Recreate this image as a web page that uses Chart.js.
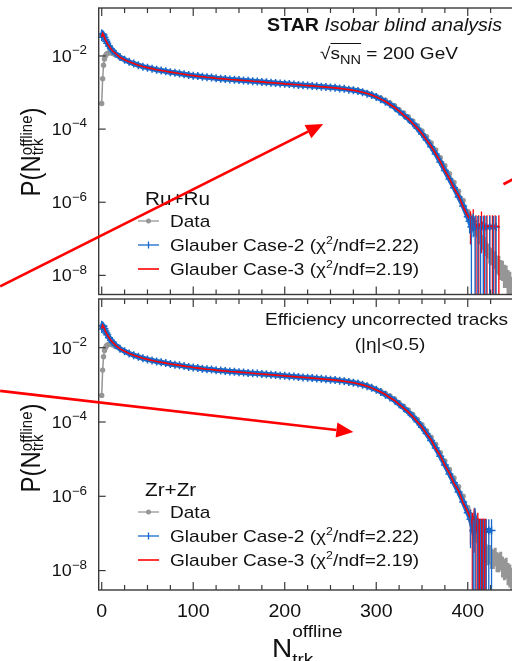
<!DOCTYPE html>
<html>
<head>
<meta charset="utf-8">
<script src="https://cdn.jsdelivr.net/npm/chart.js@4.4.0/dist/chart.umd.min.js"></script>
<style>
  html, body { margin: 0; padding: 0; background: #fff; overflow: hidden; width: 512px; height: 661px; }
  canvas { position: absolute; left: 0; }
  #topChart { top: 0; }
  #botChart { top: 290px; }
</style>
</head>
<body>
<canvas id="topChart" width="520" height="300"></canvas>
<canvas id="botChart" width="520" height="371"></canvas>
<script>
// N_trk^offline bins used by every series
const nBody = [0,1,2,3,4,5,6,8,10,12,15,20,25,30,35,40,45,50,55,60,65,70,75,80,85,90,95,100,
  105,110,115,120,125,130,135,140,145,150,155,160,165,170,175,180,185,190,195,200,
  205,210,215,220,225,230,235,240,245,250,255,260,265,270,275,280,285,290,295,300,
  305,310,315,320,325,330,335,340,345,350,355,360,365,370,375,380,385,390,395,400];
const nDataTail = [402,404,406,408,410,412,414,416,418,420,422,424,426,428,430,432,434,436,438,440,442,444,446,448,450];

// ---- Ru+Ru ----
const dataRu = [5.0e-4,2.4e-3,5.6e-3,8.3e-3,1.0e-2,1.1e-2,1.17e-2,1.23e-2,1.23e-2,1.17e-2,1.07e-2,
  9.1e-3,7.9e-3,6.9e-3,6.2e-3,5.6e-3,5.1e-3,4.8e-3,4.5e-3,4.2e-3,4.0e-3,3.8e-3,3.6e-3,3.47e-3,3.31e-3,3.16e-3,3.02e-3,2.88e-3,
  2.82e-3,2.69e-3,2.63e-3,2.57e-3,2.45e-3,2.40e-3,2.34e-3,2.29e-3,2.24e-3,2.19e-3,
  2.14e-3,2.09e-3,2.04e-3,2.00e-3,1.95e-3,1.91e-3,1.86e-3,1.82e-3,1.78e-3,1.74e-3,
  1.70e-3,1.66e-3,1.62e-3,1.59e-3,1.55e-3,1.52e-3,1.49e-3,1.46e-3,1.43e-3,1.40e-3,
  1.37e-3,1.32e-3,1.29e-3,1.24e-3,1.19e-3,1.14e-3,1.05e-3,9.8e-4,8.9e-4,7.9e-4,
  7.1e-4,6.2e-4,5.2e-4,4.4e-4,3.4e-4,2.75e-4,2.2e-4,1.66e-4,1.23e-4,8.9e-5,
  6.2e-5,4.2e-5,2.7e-5,1.66e-5,1.0e-5,6.0e-6,3.5e-6,2.0e-6,1.12e-6,5.6e-7];
const dataRuTail = [4.2e-7,3.0e-7,2.6e-7,1.9e-7,1.7e-7,1.25e-7,1.15e-7,8.5e-8,8.0e-8,6.0e-8,5.2e-8,4.0e-8,3.7e-8,
  3.0e-8,3.0e-8,2.3e-8,2.2e-8,1.7e-8,1.6e-8,1.2e-8,1.15e-8,8.5e-9,7.5e-9,5.0e-9,4.5e-9];
const dataRuTailErr = [1.3e-7,1.0e-7,9.0e-8,7.0e-8,6.0e-8,5.0e-8,4.5e-8,3.5e-8,3.2e-8,2.6e-8,2.3e-8,1.9e-8,1.8e-8,
  1.5e-8,1.5e-8,1.2e-8,1.2e-8,9.5e-9,9.0e-9,7.5e-9,7.0e-9,5.5e-9,5.0e-9,4.0e-9,3.6e-9];

const case2Ru = [3.24e-2,3.98e-2,3.72e-2,3.24e-2,2.82e-2,2.51e-2,2.24e-2,1.86e-2,1.58e-2,1.38e-2,1.17e-2,
  9.3e-3,7.9e-3,6.9e-3,6.2e-3,5.6e-3,5.1e-3,4.8e-3,4.5e-3,4.2e-3,4.0e-3,3.8e-3,3.6e-3,3.47e-3,3.31e-3,3.16e-3,3.02e-3,2.88e-3,
  2.82e-3,2.69e-3,2.63e-3,2.57e-3,2.45e-3,2.40e-3,2.34e-3,2.29e-3,2.24e-3,2.19e-3,
  2.14e-3,2.09e-3,2.04e-3,2.00e-3,1.95e-3,1.91e-3,1.86e-3,1.82e-3,1.78e-3,1.74e-3,
  1.70e-3,1.66e-3,1.62e-3,1.58e-3,1.55e-3,1.51e-3,1.48e-3,1.45e-3,1.41e-3,1.38e-3,
  1.35e-3,1.29e-3,1.26e-3,1.20e-3,1.15e-3,1.10e-3,1.02e-3,9.3e-4,8.5e-4,7.6e-4,
  6.6e-4,5.6e-4,4.8e-4,3.9e-4,3.05e-4,2.45e-4,1.9e-4,1.45e-4,1.05e-4,7.4e-5,
  5.0e-5,3.3e-5,2.1e-5,1.26e-5,7.4e-6,4.3e-6,2.5e-6,1.4e-6,7.9e-7,4.0e-7];
const case2RuTailN = [402,404,406,408,411,414,417,420,424,428,431];
const case2RuTail = [3.0e-7,2.1e-7,3.0e-7,2.1e-7,2.1e-7,2.1e-7,2.1e-7,2.1e-7,2.1e-7,2.1e-7,2.1e-7];
const case2RuErr = [1.6e-7,2.1e-7,1.9e-7,2.1e-7,2.1e-7,2.1e-7,2.1e-7,2.1e-7,2.1e-7,2.1e-7,2.1e-7];

const case3Ru = [3.3e-2,4.1e-2,3.75e-2,3.2e-2,2.8e-2,2.5e-2,2.2e-2,1.85e-2,1.57e-2,1.37e-2,1.17e-2,
  9.2e-3,7.9e-3,6.9e-3,6.2e-3,5.6e-3,5.15e-3,4.8e-3,4.5e-3,4.2e-3,4.0e-3,3.8e-3,3.62e-3,3.47e-3,3.3e-3,3.17e-3,3.02e-3,2.9e-3,
  2.8e-3,2.7e-3,2.62e-3,2.56e-3,2.46e-3,2.4e-3,2.35e-3,2.28e-3,2.24e-3,2.18e-3,
  2.14e-3,2.1e-3,2.04e-3,2.0e-3,1.96e-3,1.9e-3,1.87e-3,1.82e-3,1.78e-3,1.73e-3,
  1.7e-3,1.66e-3,1.63e-3,1.58e-3,1.55e-3,1.52e-3,1.48e-3,1.44e-3,1.41e-3,1.38e-3,
  1.34e-3,1.3e-3,1.25e-3,1.2e-3,1.15e-3,1.09e-3,1.02e-3,9.4e-4,8.5e-4,7.5e-4,
  6.6e-4,5.7e-4,4.7e-4,3.9e-4,3.1e-4,2.4e-4,1.9e-4,1.42e-4,1.05e-4,7.5e-5,
  5.0e-5,3.4e-5,2.1e-5,1.3e-5,7.2e-6,4.4e-6,2.4e-6,1.5e-6,7.5e-7,4.2e-7];
const case3RuTailN = [403,406,409,412,415,418,421,424,427,430,434];
const case3RuTail = [3.2e-7,4.0e-7,2.2e-7,2.2e-7,3.0e-7,2.2e-7,2.2e-7,2.2e-7,2.2e-7,2.2e-7,2.2e-7];
const case3RuErr = [2.5e-7,2.4e-7,2.2e-7,2.2e-7,2.6e-7,2.2e-7,2.2e-7,2.2e-7,2.2e-7,2.2e-7,2.2e-7];

// ---- Zr+Zr ----
const dataZr = [5.2e-4,2.5e-3,5.7e-3,8.4e-3,1.0e-2,1.1e-2,1.18e-2,1.24e-2,1.24e-2,1.18e-2,1.08e-2,
  9.2e-3,8.0e-3,7.0e-3,6.3e-3,5.7e-3,5.2e-3,4.85e-3,4.55e-3,4.25e-3,4.05e-3,3.85e-3,3.65e-3,3.5e-3,3.35e-3,3.2e-3,3.05e-3,2.92e-3,
  2.84e-3,2.72e-3,2.65e-3,2.58e-3,2.48e-3,2.42e-3,2.36e-3,2.3e-3,2.25e-3,2.2e-3,
  2.15e-3,2.1e-3,2.05e-3,2.01e-3,1.96e-3,1.92e-3,1.87e-3,1.83e-3,1.79e-3,1.75e-3,
  1.71e-3,1.67e-3,1.63e-3,1.6e-3,1.56e-3,1.53e-3,1.5e-3,1.46e-3,1.43e-3,1.4e-3,
  1.37e-3,1.33e-3,1.29e-3,1.24e-3,1.18e-3,1.12e-3,1.04e-3,9.6e-4,8.7e-4,7.7e-4,
  6.8e-4,5.9e-4,5.0e-4,4.2e-4,3.3e-4,2.65e-4,2.1e-4,1.6e-4,1.18e-4,8.5e-5,
  5.8e-5,3.9e-5,2.5e-5,1.5e-5,9.0e-6,5.3e-6,3.1e-6,1.8e-6,1.0e-6,5.0e-7];
const dataZrTail = [3.2e-7,2.6e-7,1.9e-7,1.5e-7,1.0e-7,7.5e-8,6.2e-8,4.5e-8,4.2e-8,3.4e-8,3.0e-8,3.2e-8,2.5e-8,
  2.4e-8,2.7e-8,2.0e-8,1.9e-8,2.1e-8,1.5e-8,1.3e-8,1.4e-8,1.0e-8,9.0e-9,7.5e-9,6.0e-9];
const dataZrTailErr = [1.1e-7,9.5e-8,7.5e-8,6.0e-8,4.5e-8,3.5e-8,3.0e-8,2.3e-8,2.2e-8,1.8e-8,1.6e-8,1.7e-8,1.4e-8,
  1.3e-8,1.4e-8,1.1e-8,1.0e-8,1.1e-8,8.5e-9,7.5e-9,8.0e-9,6.0e-9,5.5e-9,4.5e-9,4.0e-9];

const case2Zr = [3.2e-2,3.95e-2,3.7e-2,3.25e-2,2.8e-2,2.5e-2,2.25e-2,1.87e-2,1.6e-2,1.4e-2,1.18e-2,
  9.4e-3,8.0e-3,7.0e-3,6.3e-3,5.7e-3,5.2e-3,4.85e-3,4.55e-3,4.25e-3,4.05e-3,3.85e-3,3.65e-3,3.5e-3,3.35e-3,3.2e-3,3.05e-3,2.92e-3,
  2.84e-3,2.72e-3,2.65e-3,2.58e-3,2.48e-3,2.42e-3,2.36e-3,2.3e-3,2.25e-3,2.2e-3,
  2.15e-3,2.1e-3,2.05e-3,2.01e-3,1.96e-3,1.92e-3,1.87e-3,1.83e-3,1.79e-3,1.75e-3,
  1.71e-3,1.67e-3,1.63e-3,1.59e-3,1.56e-3,1.52e-3,1.49e-3,1.45e-3,1.42e-3,1.38e-3,
  1.35e-3,1.3e-3,1.26e-3,1.2e-3,1.14e-3,1.08e-3,1.0e-3,9.2e-4,8.3e-4,7.4e-4,
  6.4e-4,5.4e-4,4.6e-4,3.8e-4,3.0e-4,2.4e-4,1.85e-4,1.4e-4,1.02e-4,7.2e-5,
  4.9e-5,3.2e-5,2.0e-5,1.2e-5,7.0e-6,4.0e-6,2.3e-6,1.3e-6,7.0e-7,3.6e-7];
const case2ZrTailN = [403,406,408,411,414,417,420,423,426];
const case2ZrTail = [2.4e-7,1.2e-7,2.4e-7,1.2e-7,1.2e-7,1.2e-7,1.2e-7,1.2e-7,1.2e-7];
const case2ZrErr = [2.0e-7,1.2e-7,2.4e-7,1.2e-7,1.2e-7,1.2e-7,1.2e-7,1.2e-7,1.2e-7];

const case3Zr = [3.3e-2,4.05e-2,3.72e-2,3.22e-2,2.8e-2,2.5e-2,2.23e-2,1.86e-2,1.59e-2,1.39e-2,1.18e-2,
  9.3e-3,8.0e-3,7.0e-3,6.3e-3,5.7e-3,5.2e-3,4.85e-3,4.55e-3,4.25e-3,4.05e-3,3.85e-3,3.66e-3,3.5e-3,3.34e-3,3.2e-3,3.06e-3,2.92e-3,
  2.83e-3,2.73e-3,2.64e-3,2.58e-3,2.49e-3,2.42e-3,2.36e-3,2.3e-3,2.26e-3,2.2e-3,
  2.15e-3,2.11e-3,2.05e-3,2.0e-3,1.96e-3,1.92e-3,1.88e-3,1.83e-3,1.79e-3,1.75e-3,
  1.71e-3,1.67e-3,1.63e-3,1.59e-3,1.56e-3,1.52e-3,1.49e-3,1.45e-3,1.42e-3,1.38e-3,
  1.34e-3,1.3e-3,1.25e-3,1.2e-3,1.14e-3,1.07e-3,1.0e-3,9.2e-4,8.3e-4,7.3e-4,
  6.4e-4,5.5e-4,4.5e-4,3.8e-4,3.0e-4,2.35e-4,1.85e-4,1.38e-4,1.0e-4,7.3e-5,
  4.8e-5,3.3e-5,1.9e-5,1.25e-5,6.8e-6,4.2e-6,2.2e-6,1.4e-6,6.6e-7,3.8e-7];
const case3ZrTailN = [403,405,407,409,411,412,413,414,415,416,417,418,419,420];
const case3ZrTail = [2.5e-7,1.8e-7,2.5e-7,1.25e-7,1.8e-7,1.25e-7,1.25e-7,1.25e-7,1.25e-7,1.25e-7,1.25e-7,1.25e-7,1.25e-7,1.25e-7];
const case3ZrErr = [2.0e-7,1.8e-7,2.2e-7,1.25e-7,1.8e-7,1.25e-7,1.25e-7,1.25e-7,1.25e-7,1.25e-7,1.25e-7,1.25e-7,1.25e-7,1.25e-7];

// axis ticks
const xTickVals = [0, 100, 200, 300, 400];
const xTickLabels = ['0', '100', '200', '300', '400'];
const yTickVals = [1e-8, 1e-6, 1e-4, 1e-2];
const yTickExp = ['\u22128', '\u22126', '\u22124', '\u22122'];

const FONT = '"Liberation Sans", Arial, Helvetica, sans-serif';
const SX = 1.12; // the original figure is slightly stretched sideways
const GRAY = 'rgb(150,150,150)', BLUE = 'rgb(22,104,204)', RED = 'rgb(255,0,0)', INK = '#111';

const pts = (xs, ys) => xs.map((v, i) => ({ x: v, y: ys[i] }));
const errPts = (xs, ys, es) => xs.map((v, i) => ({ x: v, y: ys[i], e: es[i] }));

// draws runs of text, parts can be raised/lowered (dy) or stacked (back)
function drawText(ctx, parts, x, y, align, sx, sy) {
  sx = sx || SX; sy = sy || 1;
  let pStart = 0, pEnd = 0;
  const lay = parts.map(p => {
    ctx.font = (p.f || '') + ' ' + p.s + 'px ' + FONT;
    const w = ctx.measureText(p.t).width * sx;
    let start;
    if (p.back) { start = pStart; pEnd = Math.max(pEnd, start + w); }
    else { start = pEnd; pStart = start; pEnd = start + w; }
    return { p, start, w };
  });
  const x0 = align === 'right' ? x - pEnd : align === 'center' ? x - pEnd / 2 : x;
  lay.forEach(({ p, start }) => {
    ctx.save();
    ctx.font = (p.f || '') + ' ' + p.s + 'px ' + FONT;
    ctx.fillStyle = p.c || INK;
    ctx.textAlign = 'left';
    ctx.textBaseline = 'alphabetic';
    ctx.translate(x0 + start, y + (p.dy || 0));
    ctx.scale(sx, sy);
    ctx.fillText(p.t, 0, 0);
    ctx.restore();
  });
  return lay.map(l => ({ x: x0 + l.start, w: l.w }));
}

function arrow(ctx, x1, y1, x2, y2, head) {
  const ang = Math.atan2(y2 - y1, x2 - x1);
  const L = head ? 17 : 0;
  const bx = x2 - L * Math.cos(ang), by = y2 - L * Math.sin(ang);
  ctx.save();
  ctx.strokeStyle = RED; ctx.fillStyle = RED; ctx.lineWidth = 2.7;
  ctx.beginPath(); ctx.moveTo(x1, y1); ctx.lineTo(bx, by); ctx.stroke();
  if (head) {
    ctx.beginPath();
    ctx.moveTo(x2, y2);
    ctx.lineTo(bx + 7.5 * Math.sin(ang), by - 7.5 * Math.cos(ang));
    ctx.lineTo(bx - 7.5 * Math.sin(ang), by + 7.5 * Math.cos(ang));
    ctx.closePath(); ctx.fill();
  }
  ctx.restore();
}

function makeDecor(cfg) {
  return {
    id: 'decor',
    beforeDatasetsDraw(chart) {
      // grey error bars of the data tail go under everything
      drawErrs(chart, chart.data.datasets.filter(d => d.errsUnder));
    },
    afterDatasetsDraw(chart) {
      const { ctx, chartArea: a, scales: { x, y } } = chart;
      drawErrs(chart, chart.data.datasets.filter(d => d.errs));

      // frame with inward ticks
      ctx.save();
      ctx.strokeStyle = '#3a3a3a'; ctx.lineWidth = 1.4;
      ctx.strokeRect(a.left, a.top, a.right - a.left, a.bottom - a.top);
      ctx.lineWidth = 1.2;
      for (let v = 0; v <= 450; v += 25) {
        const px = x.getPixelForValue(v);
        const len = v % 100 === 0 ? 8 : 5;
        ctx.beginPath();
        ctx.moveTo(px, a.bottom); ctx.lineTo(px, a.bottom - len);
        ctx.moveTo(px, a.top); ctx.lineTo(px, a.top + len);
        ctx.stroke();
      }
      yTickVals.forEach(v => {
        const py = y.getPixelForValue(v);
        ctx.beginPath(); ctx.moveTo(a.left, py); ctx.lineTo(a.left + 7, py); ctx.stroke();
      });
      ctx.restore();
    },
    afterDraw(chart) {
      const { ctx, chartArea: a, scales: { x, y } } = chart;
      const ds = chart.data.datasets;

      // y tick labels 10^n
      yTickVals.forEach((v, i) => {
        const py = y.getPixelForValue(v);
        drawText(ctx, [{ t: '10', s: 16 }, { t: yTickExp[i], s: 12, dy: -7.5 }], 87, py + 5.8, 'right');
      });
      // x tick labels and title
      if (cfg.xLabels) {
        xTickVals.forEach((v, i) => {
          drawText(ctx, [{ t: xTickLabels[i], s: 17.5 }], x.getPixelForValue(v), a.bottom + 27, 'center');
        });
        drawText(ctx, [
          { t: 'N', s: 25 },
          { t: 'offline', s: 17, dy: -20 },
          { t: 'trk', s: 17, dy: 8, back: true }
        ], 272, a.bottom + 67, 'left');
      }
      // y title, rotated
      ctx.save();
      ctx.translate(40, cfg.yTitleY);
      ctx.rotate(-Math.PI / 2);
      drawText(ctx, [
        { t: 'P(N', s: 24 },
        { t: 'offline', s: 15, dy: -8 },
        { t: 'trk', s: 15, dy: 3, back: true },
        { t: ')', s: 24 }
      ], 0, 0, 'center', 1, SX);
      ctx.restore();

      // legend
      const t0 = a.top;
      drawText(ctx, [{ t: cfg.title, s: 18.5 }], 145, t0 + 197, 'left');
      const order = [2, 1, 0];
      const base = [219, 243, 267];
      order.forEach((k, i) => {
        const d = ds[k];
        const ly = t0 + base[i] - 6;
        ctx.save();
        ctx.strokeStyle = d.borderColor; ctx.lineWidth = k === 0 ? 1.6 : 1.3;
        ctx.beginPath(); ctx.moveTo(138, ly); ctx.lineTo(159, ly); ctx.stroke();
        if (k === 2) {
          ctx.fillStyle = GRAY; ctx.beginPath(); ctx.arc(148.5, ly, 2.5, 0, Math.PI * 2); ctx.fill();
        } else if (k === 1) {
          ctx.beginPath(); ctx.moveTo(148.5, ly - 3.5); ctx.lineTo(148.5, ly + 3.5); ctx.stroke();
        }
        ctx.restore();
        const bits = d.label.split('\u00b2');
        const parts = [{ t: bits[0], s: 17 }];
        if (bits.length > 1) parts.push({ t: '2', s: 11, dy: -7 }, { t: bits[1], s: 17 });
        drawText(ctx, parts, 170, t0 + base[i], 'left');
      });

      // header texts
      cfg.notes(ctx);

      // red arrows, placed in data coordinates
      cfg.arrows.forEach(r => {
        arrow(ctx, x.getPixelForValue(r.from[0]), y.getPixelForValue(r.from[1]),
          x.getPixelForValue(r.to[0]), y.getPixelForValue(r.to[1]), r.head);
      });
    }
  };
}

function drawErrs(chart, sets) {
  const { ctx, chartArea: a, scales: { x, y } } = chart;
  ctx.save();
  ctx.beginPath(); ctx.rect(a.left, a.top, a.right - a.left, a.bottom - a.top); ctx.clip();
  sets.forEach(ds => {
    ctx.strokeStyle = ds.borderColor; ctx.lineWidth = ds.errWidth || 1.3;
    (ds.errs || ds.errsUnder).forEach(p => {
      const px = x.getPixelForValue(p.x);
      const lo = p.y - p.e > y.min ? y.getPixelForValue(p.y - p.e) : a.bottom;
      const hi = y.getPixelForValue(p.y + p.e);
      ctx.beginPath(); ctx.moveTo(px, lo); ctx.lineTo(px, hi); ctx.stroke();
    });
  });
  ctx.restore();
}

function panelDatasets(dataBody, dataTail, dataErr, c2, c2N, c2T, c2E, c3, c3N, c3T, c3E, labels) {
  return [
    {
      label: labels[1], order: 0,
      data: pts(nBody.concat(c3N), c3.concat(c3T)),
      borderColor: RED, borderWidth: 1.6, pointRadius: 0,
      errs: errPts(c3N, c3T, c3E)
    },
    {
      label: labels[0], order: 1,
      data: pts(nBody.concat(c2N), c2.concat(c2T)),
      borderColor: BLUE, backgroundColor: BLUE, borderWidth: 5,
      pointStyle: 'cross', pointRadius: 4, pointBorderWidth: 1.5, pointBorderColor: BLUE,
      errs: errPts(c2N, c2T, c2E)
    },
    {
      label: 'Data', order: 2,
      data: pts(nBody.concat(nDataTail), dataBody.concat(dataTail)),
      borderColor: GRAY, backgroundColor: GRAY, borderWidth: 1.5,
      pointRadius: 2.7, pointBorderWidth: 0, pointBackgroundColor: GRAY,
      errsUnder: errPts(nDataTail, dataTail, dataErr), errWidth: 3
    }
  ];
}

function makeChart(id, datasets, padding, decor) {
  return new Chart(document.getElementById(id).getContext('2d'), {
    type: 'line',
    data: { datasets },
    options: {
      responsive: false,
      animation: false,
      devicePixelRatio: 1,
      layout: { padding },
      elements: { line: { tension: 0 } },
      scales: {
        x: { type: 'linear', min: -3.3, max: 450, display: false },
        y: { type: 'logarithmic', min: 3e-9, max: 0.205, display: false }
      },
      plugins: { legend: { display: false }, tooltip: { enabled: false } }
    },
    plugins: [decor]
  });
}

const labelsCase = ['Glauber Case-2 (\u03c7\u00b2/ndf=2.22)', 'Glauber Case-3 (\u03c7\u00b2/ndf=2.19)'];

makeChart('topChart',
  panelDatasets(dataRu, dataRuTail, dataRuTailErr, case2Ru, case2RuTailN, case2RuTail, case2RuErr,
    case3Ru, case3RuTailN, case3RuTail, case3RuErr, labelsCase),
  { left: 98.7, right: 6.5, top: 8, bottom: 1 },
  makeDecor({
    title: 'Ru+Ru', xLabels: false, yTitleY: 152,
    arrows: [
      { from: [-111, 5.0e-9], to: [242, 1.38e-4], head: true },
      { from: [439, 3.1e-6], to: [458, 5.5e-6], head: false }
    ],
    notes(ctx) {
      drawText(ctx, [{ t: 'STAR', s: 17.5, f: 'bold' }, { t: ' Isobar blind analysis', s: 17.5, f: 'italic' }], 502, 31, 'right');
      const pos = drawText(ctx, [
        { t: '\u221a', s: 17 }, { t: 's', s: 17 }, { t: 'NN', s: 13, dy: 5 }, { t: ' = 200 GeV', s: 17 }
      ], 389, 59, 'center');
      ctx.save();
      ctx.strokeStyle = INK; ctx.lineWidth = 1;
      ctx.beginPath(); ctx.moveTo(pos[1].x, 43.5); ctx.lineTo(pos[2].x + pos[2].w, 43.5); ctx.stroke();
      ctx.restore();
    }
  }));

makeChart('botChart',
  panelDatasets(dataZr, dataZrTail, dataZrTailErr, case2Zr, case2ZrTailN, case2ZrTail, case2ZrErr,
    case3Zr, case3ZrTailN, case3ZrTail, case3ZrErr, labelsCase),
  { left: 98.7, right: 6.5, top: 9, bottom: 71 },
  makeDecor({
    title: 'Zr+Zr', xLabels: true, yTitleY: 158,
    arrows: [
      { from: [-111, 6.9e-4], to: [275, 5.4e-5], head: true }
    ],
    notes(ctx) {
      drawText(ctx, [{ t: 'Efficiency uncorrected tracks', s: 17 }], 508, 35, 'right');
      drawText(ctx, [{ t: '(|\u03b7|<0.5)', s: 17 }], 390, 60, 'center');
    }
  }));
</script>
</body>
</html>
